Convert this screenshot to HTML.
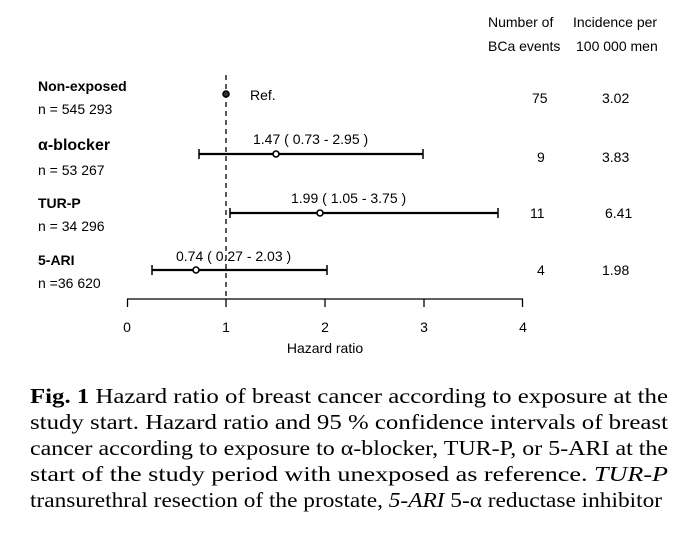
<!DOCTYPE html>
<html><head><meta charset="utf-8"><style>body{margin:0;background:#fff}svg{display:block}</style></head><body>
<svg width="691" height="536" xmlns="http://www.w3.org/2000/svg" font-family="Liberation Sans, sans-serif" fill="#000">
<g font-size="14">
<text x="488" y="27">Number of</text>
<text x="488" y="51">BCa events</text>
<text x="573" y="27">Incidence per</text>
<text x="576" y="51">100 000 men</text>
<text x="532" y="103">75</text><text x="602" y="103">3.02</text>
<text x="537" y="162">9</text><text x="602" y="162">3.83</text>
<text x="530" y="218">11</text><text x="605" y="218">6.41</text>
<text x="537" y="275">4</text><text x="602" y="275">1.98</text>
</g>
<g font-size="14">
<text x="38" y="91" font-weight="bold">Non-exposed</text>
<text x="38" y="114">n = 545 293</text>
<text x="38" y="150" font-weight="bold" font-size="16">α-blocker</text>
<text x="38" y="175">n = 53 267</text>
<text x="38" y="208" font-weight="bold">TUR-P</text>
<text x="38" y="231">n = 34 296</text>
<text x="38" y="265" font-weight="bold">5-ARI</text>
<text x="38" y="288">n =36 620</text>
<text x="250" y="100">Ref.</text>
<text x="253" y="144">1.47 ( 0.73 - 2.95 )</text>
<text x="291" y="203">1.99 ( 1.05 - 3.75 )</text>
<text x="176" y="261">0.74 ( 0.27 - 2.03 )</text>
</g>
<line x1="226" y1="75" x2="226" y2="299" stroke="#000" stroke-width="1.3" stroke-dasharray="5,4"/>
<g stroke="#000" stroke-width="2.2" fill="none">
<line x1="199" y1="154" x2="423" y2="154"/><line x1="199" y1="149" x2="199" y2="159" stroke-width="1.5"/><line x1="423" y1="149" x2="423" y2="159" stroke-width="1.5"/>
<line x1="230" y1="213" x2="498" y2="213"/><line x1="230" y1="208" x2="230" y2="218" stroke-width="1.5"/><line x1="498" y1="208" x2="498" y2="218" stroke-width="1.5"/>
<line x1="152" y1="270" x2="327" y2="270"/><line x1="152" y1="265" x2="152" y2="275" stroke-width="1.5"/><line x1="327" y1="265" x2="327" y2="275" stroke-width="1.5"/>
</g>
<g stroke="#000" stroke-width="1.6" fill="#fff">
<circle cx="226" cy="94" r="3" fill="#333"/>
<circle cx="276" cy="154" r="3"/>
<circle cx="320" cy="213" r="3"/>
<circle cx="196" cy="270" r="3"/>
</g>
<g stroke="#000" stroke-width="1.3">
<line x1="127" y1="299" x2="523" y2="299"/>
<line x1="127.5" y1="299" x2="127.5" y2="307"/><line x1="226" y1="299" x2="226" y2="307"/><line x1="325" y1="299" x2="325" y2="307"/><line x1="424" y1="299" x2="424" y2="307"/><line x1="522.5" y1="299" x2="522.5" y2="307"/>
</g>
<g font-size="14" text-anchor="middle">
<text x="127" y="332">0</text><text x="226" y="332">1</text><text x="325" y="332">2</text><text x="424" y="332">3</text><text x="523" y="332">4</text>
<text x="325" y="353">Hazard ratio</text>
</g>
<g font-family="Liberation Serif, serif" font-size="21.5">
<text x="30" y="403" textLength="638" lengthAdjust="spacingAndGlyphs"><tspan font-weight="bold">Fig. 1</tspan> Hazard ratio of breast cancer according to exposure at the</text>
<text x="30" y="429" textLength="638" lengthAdjust="spacingAndGlyphs">study start. Hazard ratio and 95 % confidence intervals of breast</text>
<text x="30" y="455" textLength="638" lengthAdjust="spacingAndGlyphs">cancer according to exposure to α-blocker, TUR-P, or 5-ARI at the</text>
<text x="30" y="481" textLength="638" lengthAdjust="spacingAndGlyphs">start of the study period with unexposed as reference. <tspan font-style="italic">TUR-P</tspan></text>
<text x="30" y="507" textLength="632" lengthAdjust="spacingAndGlyphs">transurethral resection of the prostate, <tspan font-style="italic">5-ARI</tspan> 5-α reductase inhibitor</text>
</g>
</svg>
</body></html>
